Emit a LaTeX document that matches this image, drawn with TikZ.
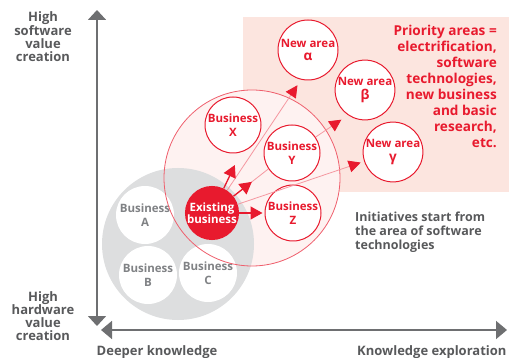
\documentclass[tikz,border=0pt]{standalone}
\usepackage{fontspec}
\setmainfont{Open Sans}
\usetikzlibrary{arrows.meta,positioning}
\definecolor{MapRed}{RGB}{232,26,46}
\definecolor{MapPink}{RGB}{252,229,223}
\definecolor{MapHalo}{RGB}{254,242,241}
\definecolor{MapInk}{RGB}{88,89,91}
\definecolor{MapMute}{RGB}{128,130,133}
\definecolor{MapDisc}{RGB}{221,222,223}
\definecolor{MapAxis}{RGB}{110,111,113}

\begin{document}
\begin{tikzpicture}[
        x=1pt, y=-1pt, font=\bfseries,
        newbiz/.style={circle, draw=MapRed, line width=1pt, fill=white, minimum size=56pt,
                       inner sep=0pt, align=center, text=MapRed,
                       font=\bfseries\fontsize{11.5}{13.5}\selectfont},
        oldbiz/.style={circle, fill=white, minimum size=58pt, inner sep=0pt, align=center,
                       text=MapMute, font=\bfseries\fontsize{11.5}{13.5}\selectfont},
        axislabel/.style={align=center, text=MapInk, font=\bfseries\fontsize{13}{13}\selectfont},
        axisline/.style={draw=MapAxis, line width=1.8pt},
        push/.style={draw, MapRed, line width=1.3pt, -{Triangle[length=12pt,width=13pt]}},
        reach/.style={draw, MapRed!45, line width=0.8pt, -{Triangle[length=12pt,width=12pt,color=MapRed]}},
        trace/.style={draw, MapRed!45, line width=0.8pt}
    ]
        \useasboundingbox (0,0) rectangle (509,358);
        % priority zone
        \fill[MapPink] (243,17) rectangle (509,192);
        \fill[MapHalo] (252,178) circle (88);
        % existing domain
        \fill[MapDisc] (178,244) circle (76);
        \node[oldbiz] (ba) at (145,215) {Business\\A};
        \node[oldbiz] (bb) at (148,275) {Business\\B};
        \node[oldbiz] (bc) at (208,273) {Business\\C};
        \draw[MapRed!70, line width=0.8pt] (252,178) circle (88);

        % axes
        \coordinate (ytop) at (97,10);
        \coordinate (ybot) at (97,326);
        \coordinate (xlft) at (101,330);
        \coordinate (xrgt) at (507,330);
        \path[axisline, {Triangle[length=10pt,width=18pt]}-{Triangle[length=10pt,width=18pt]}] (ytop) -- (ybot);
        \path[axisline, {Triangle[length=11pt,width=18pt]}-{Triangle[length=11pt,width=18pt]}] (xlft) -- (xrgt);
        \node[axislabel] (soft) at (43,37)  {High\\software\\value\\creation};
        \node[axislabel] (hard) at (43,316) {High\\hardware\\value\\creation};
        \node[axislabel] (deep) at (157,352) {Deeper knowledge};
        \node[axislabel, anchor=east] (expl) at (510,352) {Knowledge exploration};

        % businesses
        \node[newbiz] (bx) at (233,125) {Business\\X};
        \node[newbiz] (by) at (292,153) {Business\\Y};
        \node[newbiz] (bz) at (293,213) {Business\\Z};
        \node[newbiz, minimum size=60pt] (na) at (308,50)  {New area\\{\fontsize{13.5}{13.5}\selectfont α}};
        \node[newbiz, minimum size=58pt] (nb) at (365,90)  {New area\\{\fontsize{13.5}{13.5}\selectfont β}};
        \node[newbiz, minimum size=58pt] (ng) at (393,152) {New area\\{\fontsize{13.5}{13.5}\selectfont γ}};
        \node[circle, fill=MapRed, minimum size=54pt, inner sep=0pt, align=center, text=white,
              font=\bfseries\fontsize{11.5}{12.5}\selectfont] (core) at (212,213) {Existing\\business};

        % connectors
        \path[reach, shorten >=6.6pt] (core) -- (na.-103);
        \path[reach, shorten >=8pt]   (by)   -- (nb.-124);
        \path[reach, shorten >=3.6pt] (core) -- (ng.-162);
        \path[trace] (core) -- (by.-146);
        \path[push, shorten >=14pt]  (core) -- (bx.-74);
        \path[push, shorten >=21pt]  (core) -- (by.-146);
        \path[push, shorten >=2pt]   (core) -- (bz);

        % notes
        \node[align=right, anchor=north east, text=MapRed, inner sep=0pt,
              font=\bfseries\fontsize{13.6}{16}\selectfont] (prio) at (497,25)
              {Priority areas =\\electrification,\\software\\technologies,\\new business\\and basic\\research,\\etc.};
        \node[align=left, anchor=north west, text=MapInk, inner sep=0pt,
              font=\bfseries\fontsize{12.5}{14}\selectfont] (init) at (355,212)
              {Initiatives start from\\the area of software\\technologies};
    \end{tikzpicture}
\end{document}
